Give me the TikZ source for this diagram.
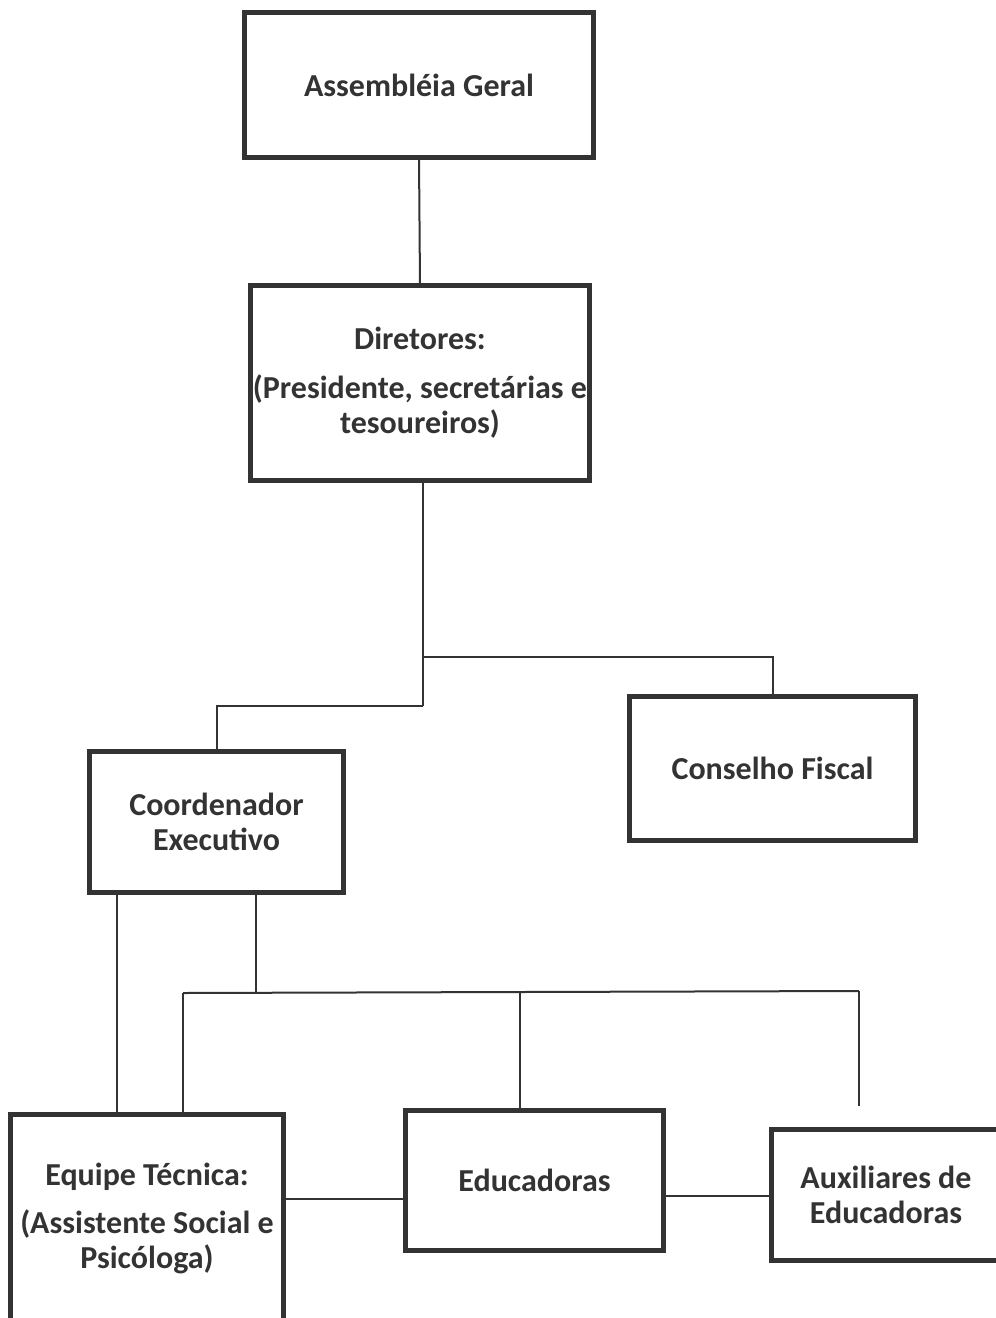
\documentclass[tikz,border=0pt]{standalone}
\usepackage{fontspec}
\setmainfont{Carlito}
\begin{document}
\begin{tikzpicture}[x=1pt,y=-1pt,
  box/.style={draw=ink, line width=5pt, rectangle, outer sep=0pt, inner sep=0pt,
    align=center, text=ink, font=\fontsize{32}{35}\selectfont\bfseries},
  conn/.style={draw=ink, line width=2pt}]
\definecolor{ink}{HTML}{333333}
\useasboundingbox (0,0) rectangle (996,1318);
\clip (0,0) rectangle (996,1318);
\fill[white] (0,0) rectangle (996,1318);

\node[box, minimum width=349pt, minimum height=145pt] (ag) at (419,85) {Assembléia Geral};
\node[box, minimum width=339pt, minimum height=195pt] (dir) at (420,383)
  {Diretores:\\[14pt](Presidente, secretárias e\\tesoureiros)};
\node[box, minimum width=254pt, minimum height=141pt] (ce) at (216.5,822) {Coordenador\\Executivo};
\node[box, minimum width=286pt, minimum height=144pt] (cf) at (772.5,768.5) {Conselho Fiscal};
\node[box, minimum width=273pt, minimum height=207.5pt] (eq) at (147,1218)
  {Equipe Técnica:\\[13pt](Assistente Social e\\Psicóloga)};
\node[box, minimum width=258pt, minimum height=140pt] (ed) at (534.5,1180.5) {Educadoras};
\node[box, minimum width=229pt, minimum height=131pt] (au) at (886,1195) {Auxiliares de\\Educadoras};

\coordinate (j1) at (423,657);
\coordinate (j2) at (423,706);
\coordinate (v1) at (117,993);
\coordinate (v2) at (256,993);
\coordinate (bl) at (183,993);
\coordinate (bm) at (520,993);
\coordinate (br) at (859,991);
\coordinate (brend) at (859,1106);
\coordinate (h1) at (0,1199);
\coordinate (h2) at (0,1196);

\draw[conn] (ag.south) -- (dir.north);
\draw[conn] (dir.south -| j1) -- (j2);
\draw[conn] (j1) -| (cf.north);
\draw[conn] (j2) -| (ce.north);
\draw[conn] (ce.south -| v1) -- (eq.north -| v1);
\draw[conn] (ce.south -| v2) -- (v2);
\draw[conn] (bl) -- (br);
\draw[conn] (bl) -- (eq.north -| bl);
\draw[conn] (bm) -- (ed.north -| bm);
\draw[conn] (br) -- (brend);
\draw[conn] (eq.east |- h1) -- (ed.west |- h1);
\draw[conn] (ed.east |- h2) -- (au.west |- h2);
\end{tikzpicture}
\end{document}
